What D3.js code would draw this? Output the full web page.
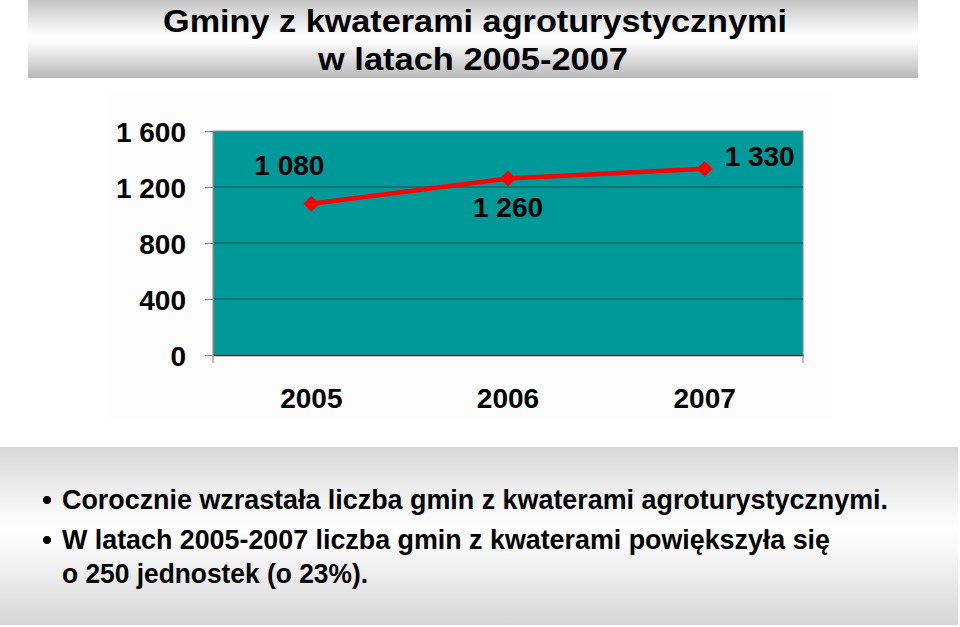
<!DOCTYPE html>
<html><head><meta charset="utf-8">
<script src="https://cdn.jsdelivr.net/npm/d3@7"></script>
<style>body{margin:0;background:#fff}svg{display:block}text{font-family:"Liberation Sans",Arial,sans-serif;font-weight:bold;fill:#000}</style>
</head><body><svg id="c" width="960" height="627"></svg>
<script>
const categories = ["2005", "2006", "2007"];
const values = [1080, 1260, 1330];
const valueLabels = ["1 080", "1 260", "1 330"];
const yTicks = [0, 400, 800, 1200, 1600];
const yTickLabels = ["0", "400", "800", "1 200", "1 600"];
const titleLines = ["Gminy z kwaterami agroturystycznymi", "w latach 2005-2007"];
const bullets = ["Corocznie wzrastała liczba gmin z kwaterami agroturystycznymi.", "W latach 2005-2007 liczba gmin z kwaterami powiększyła się", "o 250 jednostek (o 23%)."];

const svg = d3.select("#c");
const defs = svg.append("defs");
function grad(id, stops){
  const g = defs.append("linearGradient").attr("id", id).attr("x1",0).attr("y1",0).attr("x2",0).attr("y2",1);
  stops.forEach(s=>g.append("stop").attr("offset",s[0]).attr("stop-color",s[1]));
}
grad("tg", [[0,"#c4c4c4"],[0.45,"#ffffff"],[0.55,"#fbfbfb"],[1,"#b8b8b8"]]);
grad("bg", [[0,"#d8d8d8"],[0.45,"#ffffff"],[0.55,"#fafafa"],[1,"#d6d6d6"]]);

// title band
svg.append("rect").attr("x",28).attr("y",0).attr("width",890).attr("height",78).attr("fill","url(#tg)");
svg.append("text").attr("x",475).attr("y",32).attr("text-anchor","middle").attr("font-size",32).attr("textLength",624).attr("lengthAdjust","spacingAndGlyphs").text(titleLines[0]);
svg.append("text").attr("x",473).attr("y",70).attr("text-anchor","middle").attr("font-size",32).attr("textLength",310).attr("lengthAdjust","spacingAndGlyphs").text(titleLines[1]);

// chart background
svg.append("rect").attr("x",108).attr("y",95).attr("width",724).attr("height",323).attr("fill","#fcfcfc");

const m = {l:213, r:803, t:131, b:355};
const x = d3.scaleBand().domain(categories).range([m.l, m.r]);
const y = d3.scaleLinear().domain([0,1600]).range([m.b, m.t]);

svg.append("rect").attr("x",m.l).attr("y",m.t).attr("width",m.r-m.l).attr("height",m.b-m.t).attr("fill","#009999").attr("stroke","#8a8a8a").attr("stroke-width",1);

// gridlines
svg.append("g").selectAll("line").data(yTicks.filter(d=>d>0&&d<1600)).join("line")
  .attr("x1",m.l).attr("x2",m.r).attr("y1",d=>y(d)).attr("y2",d=>y(d)).attr("stroke","#1f4f4f").attr("stroke-width",1);

// y axis
const ya = svg.append("g").attr("transform",`translate(${m.l},0)`).call(d3.axisLeft(y).tickValues(yTicks).tickSize(8).tickFormat((d,i)=>yTickLabels[i]));
ya.select(".domain").attr("stroke","#808080");
ya.selectAll(".tick line").attr("stroke","#808080");
ya.selectAll(".tick text").attr("font-size",28).attr("font-family","Liberation Sans, Arial, sans-serif").attr("font-weight","bold").attr("fill","#000").attr("x",-27).attr("dy","0.36em");

// x axis
const xa = svg.append("g").attr("transform",`translate(0,${m.b})`).call(d3.axisBottom(x).tickSize(0));
xa.select(".domain").attr("stroke","#333").attr("stroke-width",1.5);
xa.selectAll(".tick text").attr("font-size",28).attr("font-family","Liberation Sans, Arial, sans-serif").attr("font-weight","bold").attr("fill","#000").attr("y",53).attr("dy",0);
svg.append("line").attr("x1",m.l).attr("x2",m.l).attr("y1",m.b).attr("y2",m.b+8).attr("stroke","#808080");
svg.append("line").attr("x1",m.r).attr("x2",m.r).attr("y1",m.b).attr("y2",m.b+8).attr("stroke","#808080");

// line
const cx = d=>x(d)+x.bandwidth()/2;
svg.append("path").datum(values.map((v,i)=>[categories[i],v]))
  .attr("fill","none").attr("stroke","#ff0000").attr("stroke-width",4.5)
  .attr("d", d3.line().x(d=>cx(d[0])).y(d=>y(d[1])));
svg.append("g").selectAll("path").data(values).join("path")
  .attr("d", d3.symbol(d3.symbolDiamond2, 160))
  .attr("transform",(d,i)=>`translate(${cx(categories[i])},${y(d)})`)
  .attr("fill","#ff0000");

// value labels
const labelDx = [-22, 0, 55];
const labelDy = [-29, 38, -3];
svg.append("g").selectAll("text").data(values).join("text")
  .attr("x",(d,i)=>cx(categories[i])+labelDx[i]).attr("y",(d,i)=>y(d)+labelDy[i])
  .attr("text-anchor","middle").attr("font-size",28).text((d,i)=>valueLabels[i]);

// bottom band
svg.append("rect").attr("x",0).attr("y",447).attr("width",958).attr("height",178).attr("fill","url(#bg)");
const by = [509, 549, 583];
const bw = [826, 768, 306];
svg.append("g").selectAll("text").data(bullets).join("text")
  .attr("x",62).attr("y",(d,i)=>by[i]).attr("font-size",28).attr("textLength",(d,i)=>bw[i]).attr("lengthAdjust","spacingAndGlyphs").text(d=>d);
svg.append("g").selectAll("circle").data([0,1]).join("circle")
  .attr("cx",47).attr("cy",i=>by[i]-9).attr("r",4).attr("fill","#000");
</script></body></html>
